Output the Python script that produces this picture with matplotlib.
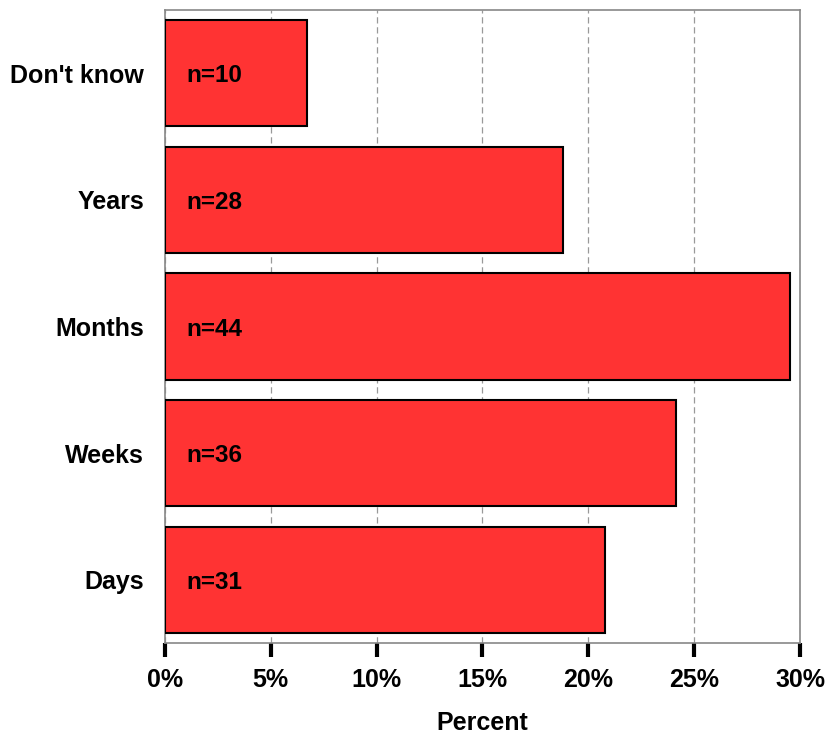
import matplotlib
matplotlib.use("Agg")
import matplotlib.pyplot as plt
from matplotlib.ticker import FuncFormatter

categories = ["Days", "Weeks", "Months", "Years", "Don't know"]
counts = [31, 36, 44, 28, 10]
total = sum(counts)
percents = [c / total * 100 for c in counts]
xticks = [0, 5, 10, 15, 20, 25, 30]

plt.rcParams['font.family'] = ['Liberation Sans', 'DejaVu Sans']
fig = plt.figure(figsize=(8.28, 7.36), dpi=100)
ax = fig.add_axes([165/828, 1-643/736, 635/828, 633/736])

ypos = list(range(len(categories)))
ax.barh(ypos, percents, height=0.84, color="#FF3333", edgecolor="black", linewidth=1.5, zorder=3)
for y, c in zip(ypos, counts):
    ax.text(1.0, y - 0.02, f"n={c}", va="center", ha="left", fontsize=17.5, fontweight="bold", zorder=4)

ax.set_xlim(0, 30)
ax.set_ylim(-0.5, 4.5)
ax.set_yticks(ypos)
ax.set_yticklabels(categories, fontsize=18, fontweight="bold")
ax.set_xticks(xticks)
ax.xaxis.set_major_formatter(FuncFormatter(lambda v, p: f"{int(v)}%"))
for lab in ax.get_xticklabels():
    lab.set_fontsize(18)
    lab.set_fontweight("bold")
ax.tick_params(axis="y", length=0, pad=15)
ax.tick_params(axis="x", direction="out", length=10, width=3, color="black", pad=8)
ax.grid(axis="x", color="#999999", linestyle=(0, (5, 3)), linewidth=0.9, zorder=0)
for s in ax.spines.values():
    s.set_color("#888888")
    s.set_linewidth(1.2)
ax.set_xlabel("Percent", fontsize=18, fontweight="bold", labelpad=14)

fig.savefig("out.png", dpi=100)
